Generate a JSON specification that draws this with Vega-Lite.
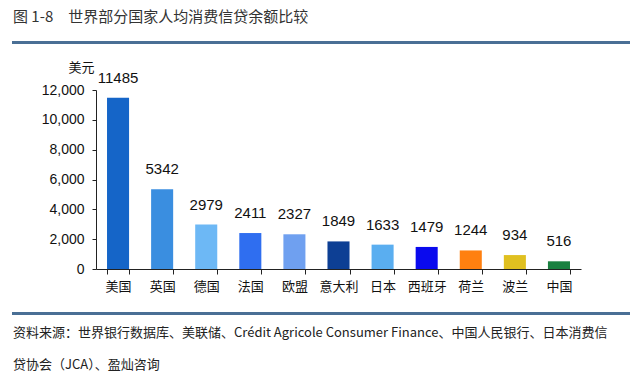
{
  "$schema": "https://vega.github.io/schema/vega-lite/v6.json",
  "background": "white",
  "padding": {"left": 12, "top": 8, "right": 0, "bottom": 0},
  "config": {
    "view": {"stroke": null},
    "font": "Noto Sans CJK SC"
  },
  "spacing": 12,
  "vconcat": [
    {
      "width": 616,
      "height": 1,
      "view": {"stroke": "#4a6f95", "strokeWidth": 2},
      "title": {
        "text": "图 1-8\u3000世界部分国家人均消费信贷余额比较",
        "anchor": "start",
        "fontSize": 15,
        "fontWeight": "normal",
        "font": "Noto Sans CJK SC",
        "color": "#333333",
        "offset": 12
      },
      "data": {"values": [{}]},
      "mark": {"type": "text", "text": ""}
    },
    {
      "width": 616,
      "height": 179,
      "data": {
        "values": [
          {"country": "美国", "value": 11485},
          {"country": "英国", "value": 5342},
          {"country": "德国", "value": 2979},
          {"country": "法国", "value": 2411},
          {"country": "欧盟", "value": 2327},
          {"country": "意大利", "value": 1849},
          {"country": "日本", "value": 1633},
          {"country": "西班牙", "value": 1479},
          {"country": "荷兰", "value": 1244},
          {"country": "波兰", "value": 934},
          {"country": "中国", "value": 516}
        ]
      },
      "encoding": {
        "x": {
          "field": "country",
          "type": "nominal",
          "sort": null,
          "scale": {"range": [83, 568], "paddingInner": 0.5, "paddingOuter": 0.25},
          "axis": {
            "title": null,
            "labelAngle": 0,
            "labelFontSize": 13,
            "labelColor": "#111111",
            "labelFont": "Noto Sans CJK SC",
            "labelPadding": 6,
            "tickBand": "extent",
            "tickSize": 5,
            "tickColor": "#222222",
            "domain": true,
            "domainColor": "#222222",
            "minExtent": 25
          }
        },
        "y": {
          "field": "value",
          "type": "quantitative",
          "scale": {"domain": [0, 12000]},
          "axis": {
            "values": [0, 2000, 4000, 6000, 8000, 10000, 12000],
            "format": ",d",
            "grid": false,
            "offset": -83,
            "title": "美元",
            "titleAngle": 0,
            "titleX": -15,
            "titleY": -23,
            "titleAlign": "center",
            "titleBaseline": "middle",
            "titleFontSize": 13,
            "titleFontWeight": "normal",
            "titleColor": "#111111",
            "titleFont": "Noto Sans CJK SC",
            "labelFontSize": 14,
            "labelFont": "Liberation Sans",
            "labelColor": "#111111",
            "labelPadding": 8,
            "tickSize": 4,
            "tickColor": "#222222",
            "domainColor": "#222222"
          }
        }
      },
      "layer": [
        {
          "mark": {"type": "bar"},
          "encoding": {
            "color": {
              "field": "country",
              "type": "nominal",
              "legend": null,
              "scale": {
                "domain": ["美国", "英国", "德国", "法国", "欧盟", "意大利", "日本", "西班牙", "荷兰", "波兰", "中国"],
                "range": ["#1565c8", "#3a8ee0", "#6db8f5", "#2f6ef0", "#6fa0f0", "#0d3f94", "#5aaef0", "#0a0aee", "#ff8010", "#e0c020", "#1a8040"]
              }
            }
          }
        },
        {
          "mark": {"type": "text", "dy": -12, "baseline": "bottom", "fontSize": 15, "font": "Liberation Sans", "color": "#111111"},
          "encoding": {"text": {"field": "value", "type": "quantitative", "format": "d"}}
        }
      ]
    },
    {
      "width": 616,
      "height": 1,
      "view": {"stroke": "#4a6f95", "strokeWidth": 2},
      "title": {
        "text": ["资料来源：世界银行数据库、美联储、Crédit Agricole Consumer Finance、中国人民银行、日本消费信", "贷协会（JCA）、盈灿咨询"],
        "orient": "bottom",
        "anchor": "start",
        "fontSize": 13,
        "fontWeight": "normal",
        "font": "Noto Sans CJK SC",
        "color": "#222222",
        "lineHeight": 32,
        "offset": 8
      },
      "data": {"values": [{}]},
      "mark": {"type": "text", "text": ""}
    }
  ]
}
